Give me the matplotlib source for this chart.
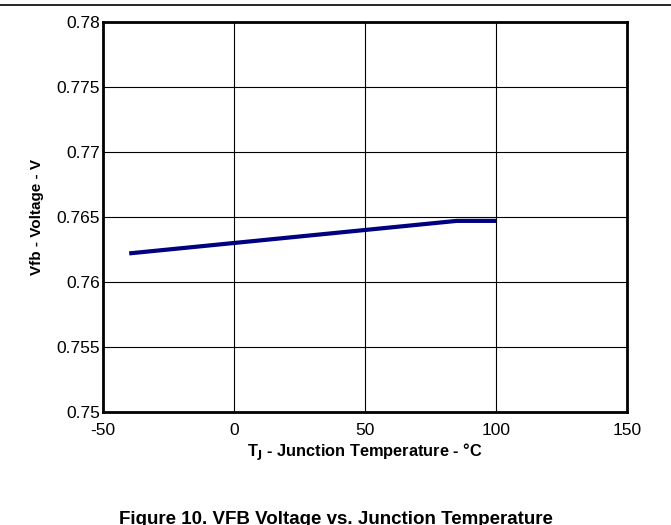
import numpy as np
import matplotlib
matplotlib.use('Agg')
import matplotlib.pyplot as plt
from matplotlib.lines import Line2D

temp_c = [-40, 0, 25, 85, 100]
vfb_v = [0.7622, 0.7630, 0.7635, 0.7647, 0.7647]
x_ticks = [-50, 0, 50, 100, 150]
y_ticks = [0.75, 0.755, 0.76, 0.765, 0.77, 0.775, 0.78]
y_tick_labels = ['0.75', '0.755', '0.76', '0.765', '0.77', '0.775', '0.78']

plt.rcParams['font.family'] = ['Liberation Sans', 'DejaVu Sans']
plt.rcParams['axes.unicode_minus'] = False

fig = plt.figure(figsize=(6.71, 5.25), dpi=100)
ax = fig.add_axes([0.1535, 0.2152, 0.781, 0.743])

ax.plot(temp_c, vfb_v, color='#000080', linewidth=3, solid_capstyle='butt', zorder=3)

ax.set_xlim(-50, 150)
ax.set_ylim(0.75, 0.78)
ax.set_xticks(x_ticks)
ax.set_yticks(y_ticks)
ax.set_yticklabels(y_tick_labels)
ax.tick_params(length=0, labelsize=12.5)
ax.tick_params(axis='x', pad=8)
ax.tick_params(axis='y', pad=2)
ax.grid(True, color='black', linewidth=0.8)
for s in ax.spines.values():
	s.set_linewidth(2)
	s.set_color('black')

ax.set_xlabel('T$_\\mathbf{J}$ - Junction Temperature - °C', fontsize=11.8, fontweight='bold', labelpad=2)
ax.set_ylabel('Vfb - Voltage - V', fontsize=11, fontweight='bold', labelpad=9)

fig.add_artist(Line2D([0, 1], [1 - 5/525, 1 - 5/525], color='black', linewidth=1.2, transform=fig.transFigure))
fig.text(0.5, 1 - 511/525, 'Figure 10. VFB Voltage vs. Junction Temperature',
	ha='center', va='top', fontsize=13.5, fontweight='bold')

fig.savefig('out.png', dpi=100)
